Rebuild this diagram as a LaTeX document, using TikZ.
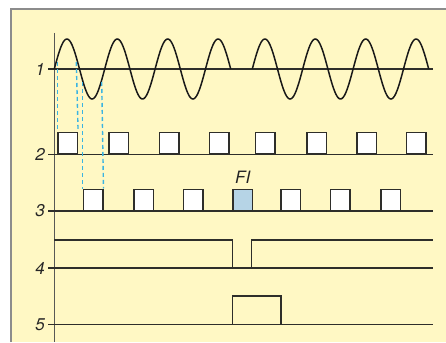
\documentclass[tikz,border=0pt]{standalone}
\usepackage{fontspec}
\setmainfont{TeX Gyre Heros}
\definecolor{bgyellow}{HTML}{FFF8C4}
\definecolor{framegray}{HTML}{8C8C8C}
\definecolor{linedark}{HTML}{2E2E2A}
\definecolor{dashblue}{HTML}{3AB4E2}
\definecolor{fiblue}{HTML}{B6D4E6}
\begin{document}
\begin{tikzpicture}[x=1pt,y=-1pt,
  baseline/.style={draw=linedark,line width=1.2pt},
  signal/.style={draw=linedark,line width=1.4pt,line join=miter},
  wave/.style={draw=black!90,line width=1.5pt},
  pulsebox/.style={draw=linedark,line width=1.5pt,fill=white,minimum width=19.3pt,minimum height=21pt,inner sep=0pt,anchor=south west},
  rowlabel/.style={font=\fontsize{17}{17}\selectfont\itshape,anchor=east,inner sep=0pt,text=black!85},
  guide/.style={draw=dashblue,line width=1.4pt,dash pattern=on 4pt off 3pt}]
\useasboundingbox (0,0) rectangle (446,342);
\fill[white] (0,0) rectangle (446,342);
\fill[bgyellow] (11,9) rectangle (446,342);
\draw[framegray,line width=1.4pt] (11,342) -- (11,9) -- (446,9);
% axis
\draw[draw=linedark!80,line width=1.1pt] (54.3,33) -- (54.3,342);
% baselines
\foreach \yy in {69,154.3,211,268,324.7} {\draw[baseline] (48,\yy) -- (433,\yy);}
% labels
\node[rowlabel] (l1) at (45,69) {1};
\node[rowlabel] (l2) at (45,154.3) {2};
\node[rowlabel] (l3) at (45,211) {3};
\node[rowlabel] (l4) at (45,268) {4};
\node[rowlabel] (l5) at (45,324.7) {5};
% sine waves
\draw[wave] plot[domain=0:176.4,samples=160,smooth] ({54.3+\x},{69-30*sin(7.142857*\x)});
\draw[wave] plot[domain=0:176.4,samples=160,smooth] ({252.3+\x},{69-30*sin(7.142857*\x)});
% row 2 boxes
\foreach \xx [count=\i] in {57.3,108.3,158.7,208.7,254.7,306.3,356.3,405.7}
  {\node[pulsebox] (b\i) at (\xx,154.3) {};}
% row 3 boxes
\foreach \xx [count=\i] in {82.7,133.3,182.7,280.3,329.7,380.3}
  {\node[pulsebox] (c\i) at (\xx,211) {};}
\node[pulsebox,fill=fiblue] (fi) at (232.3,211) {};
\node[font=\fontsize{17}{17}\selectfont\itshape,text=black!85,anchor=south,inner sep=0pt] (filabel) at ([yshift=5pt]fi.north) {FI};
% dashed guides
\coordinate (s1) at (57.3,62);
\coordinate (s2) at (76.3,62);
\coordinate (s3) at (82.7,82);
\coordinate (s4) at (101.7,82);
\draw[guide] (s1) -- (b1.north west);
\draw[guide] (s2) -- (b1.north east);
\draw[guide] (s3) -- (c1.north west);
\draw[guide] (s4) -- (c1.north east);
% row 4 signal
\draw[signal] (54.3,240) -- (232.3,240) -- (232.3,268);
\draw[signal] (251.7,268) -- (251.7,240) -- (433,240);
% row 5 pulse
\draw[signal] (232.3,324.7) -- (232.3,296) -- (281,296) -- (281,324.7);
\end{tikzpicture}
\end{document}
